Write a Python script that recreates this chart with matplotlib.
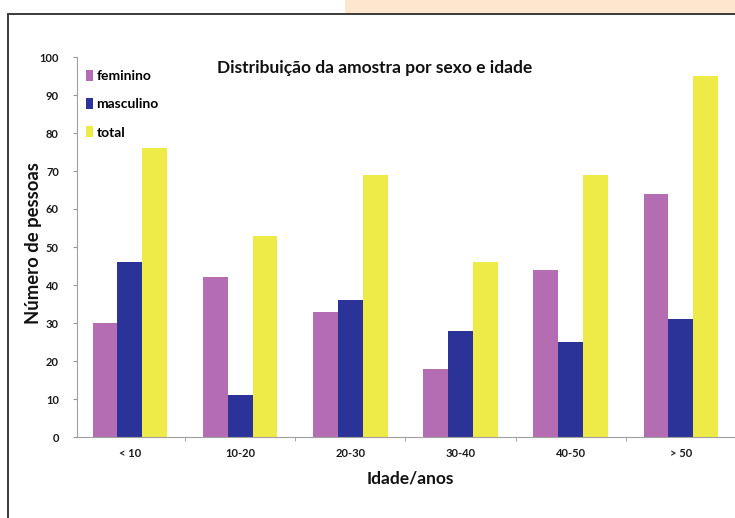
import matplotlib
matplotlib.use("Agg")
import matplotlib.pyplot as plt
import numpy as np
from matplotlib.patches import Rectangle

plt.rcParams['font.family'] = ['Lato', 'DejaVu Sans']

categories = ["< 10", "10-20", "20-30", "30-40", "40-50", "> 50"]
feminino = [30, 42, 33, 18, 44, 64]
masculino = [46, 11, 36, 28, 25, 31]
total = [76, 53, 69, 46, 69, 95]
yticks = list(range(0, 101, 10))

c_fem = "#B46DB3"
c_mas = "#2B3399"
c_tot = "#EEEA47"

fig = plt.figure(figsize=(7.35, 5.18), dpi=100)

# decorative page elements
fig.patches.append(Rectangle((345/735, 1-14/518), 1-345/735, 14/518, transform=fig.transFigure,
                             facecolor="#FDE6CE", edgecolor="none", zorder=0))
fig.patches.append(Rectangle((8/735, -0.01), 1.0, 1-14/518+0.01, transform=fig.transFigure,
                             facecolor="none", edgecolor="#3a3a3a", linewidth=1.4, zorder=1))

ax = fig.add_axes([77/735, 1-437/518, (736-77)/735, 380/518])
x = np.arange(len(categories))
w = 0.226
ax.bar(x - w, feminino, w, color=c_fem, label="feminino")
ax.bar(x, masculino, w, color=c_mas, label="masculino")
ax.bar(x + w, total, w, color=c_tot, label="total")

ax.set_xlim(-0.48, 5.48)
ax.set_ylim(0, 100)
ax.set_yticks(yticks)
ax.set_xticks(x)
ax.set_xticklabels(categories, fontsize=8, fontweight="bold", color="#1a1a1a")
ax.set_xticks(np.arange(-0.5, 6, 1)[1:], minor=True)
ax.tick_params(axis="x", which="major", length=0, pad=8)
ax.tick_params(axis="x", which="minor", length=3, color="#999999", direction="out")
ax.tick_params(axis="y", length=3, color="#999999", labelsize=8, pad=10, labelcolor="#1a1a1a")
for lab in ax.get_yticklabels():
    lab.set_fontweight("bold")

for s in ["top", "right"]:
    ax.spines[s].set_visible(False)
for s in ["left", "bottom"]:
    ax.spines[s].set_color("#a0a0a0")
    ax.spines[s].set_linewidth(0.8)

ax.set_ylabel("Número de pessoas", fontsize=13.3, fontweight="bold", color="#111111")
ax.yaxis.set_label_coords((42-77)/(736-77), (437-243)/380)
ax.set_xlabel("Idade/anos", fontsize=12.5, fontweight="bold", color="#111111")
ax.xaxis.set_label_coords((410-77)/(736-77), -(478-437)/380)
ax.xaxis.label.set_va("center")

fig.text(375/735, 1-68/518, "Distribuição da amostra por sexo e idade", fontsize=12.5,
         fontweight="bold", ha="center", va="center", color="#111111")

leg = ax.legend(loc="upper left", bbox_to_anchor=(0.005, 0.98), frameon=False,
                fontsize=10, handlelength=0.55, handleheight=0.8, handletextpad=0.2,
                labelspacing=1.15, borderaxespad=0)
for t in leg.get_texts():
    t.set_fontweight("bold")

fig.savefig("out.png", dpi=100)
